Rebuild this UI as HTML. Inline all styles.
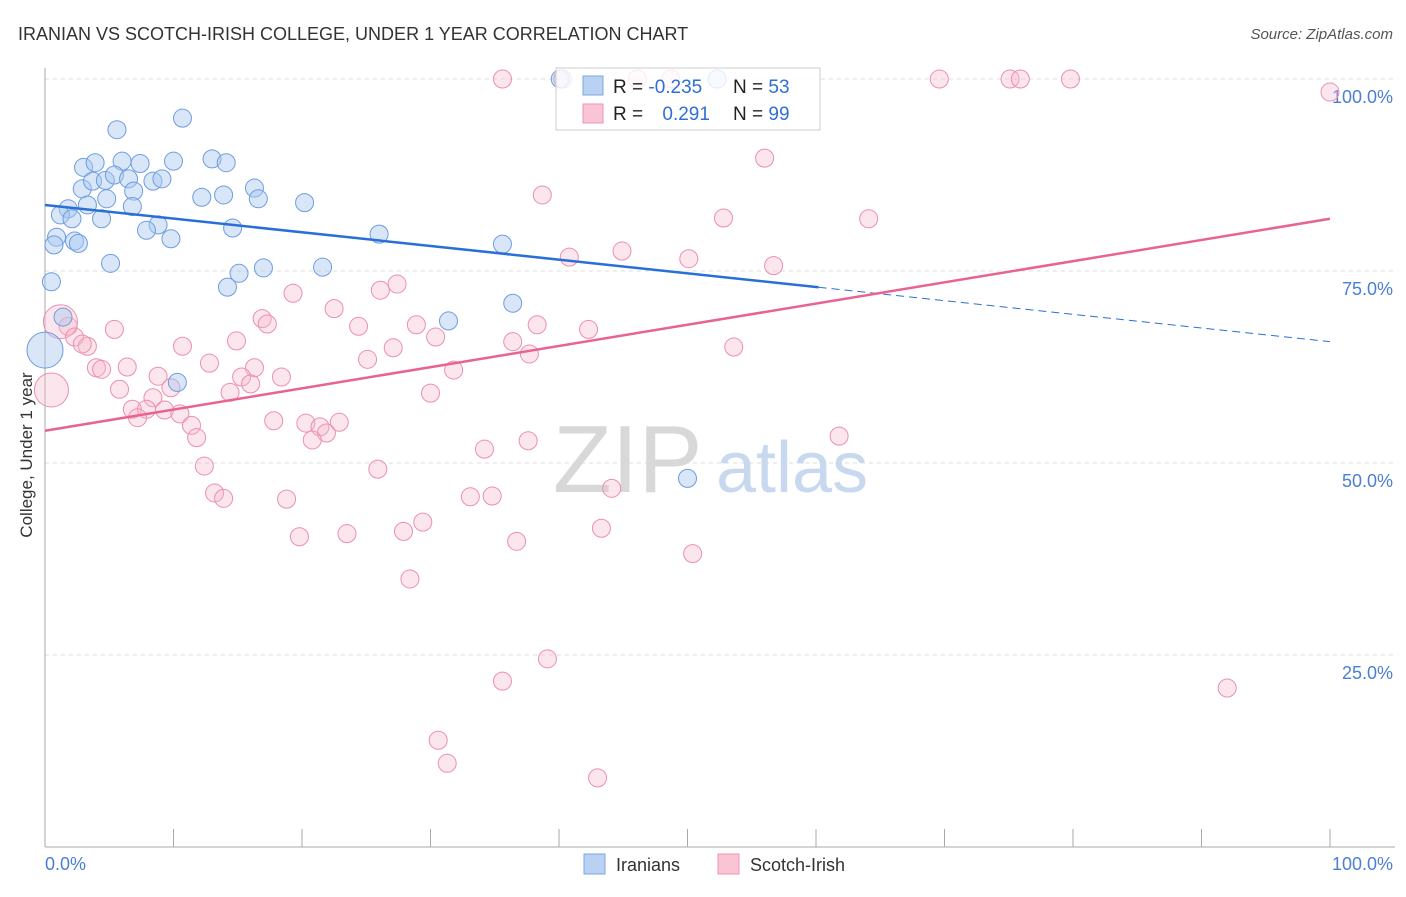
<!DOCTYPE html>
<html><head><meta charset="utf-8">
<style>
body{margin:0;background:#fff;font-family:"Liberation Sans",sans-serif;}
svg text{font-family:"Liberation Sans",sans-serif;}
</style></head>
<body>
<svg id="chart" width="1406" height="892" xmlns="http://www.w3.org/2000/svg">
<text x="18" y="40" font-size="18" fill="#333">IRANIAN VS SCOTCH-IRISH COLLEGE, UNDER 1 YEAR CORRELATION CHART</text>
<text x="1393" y="39" font-size="15" fill="#555" text-anchor="end" font-style="italic">Source: ZipAtlas.com</text>
<g id="grid"></g>
<g>
<text x="553" y="492" font-size="96" fill="#d8d8d8" font-family="Liberation Serif, serif">ZIP</text>
<text x="716" y="492" font-size="72" fill="#c8d9ef">atlas</text>
</g>
<g id="axes"></g>
<g id="pinkPts"></g>
<g id="bluePts"></g>
<g id="lines"></g>
<text x="32" y="455" font-size="17" fill="#333" text-anchor="middle" transform="rotate(-90 32 455)">College, Under 1 year</text>
<text x="45" y="870" font-size="18" fill="#4a7fd4">0.0%</text>
<text x="1393" y="870" font-size="18" fill="#4a7fd4" text-anchor="end">100.0%</text>
<g>
<rect x="556" y="68" width="264" height="62" fill="#fff" fill-opacity="0.8" stroke="#ccc"/>
<rect x="583" y="76" width="20" height="19" fill="#b9d2f3" stroke="#7fa7de"/>
<rect x="583" y="104" width="20" height="19" fill="#f9c4d4" stroke="#ee93b0"/>
<text x="613" y="93" font-size="19" fill="#222">R = <tspan fill="#2f6fd6">-0.235</tspan></text>
<text x="733" y="93" font-size="19" fill="#222">N = <tspan fill="#2f6fd6">53</tspan></text>
<text x="613" y="120" font-size="19" fill="#222">R = <tspan fill="#2f6fd6" dx="14">0.291</tspan></text>
<text x="733" y="120" font-size="19" fill="#222">N = <tspan fill="#2f6fd6">99</tspan></text>
</g>
<g>
<rect x="584" y="854" width="21" height="20" fill="#b9d2f3" stroke="#7fa7de"/>
<text x="616" y="871" font-size="18" fill="#333">Iranians</text>
<rect x="718" y="854" width="21" height="20" fill="#f9c4d4" stroke="#ee93b0"/>
<text x="750" y="871" font-size="18" fill="#333">Scotch-Irish</text>
</g>
</svg>
<script>
const yTicks=[100,75,50,25];
const yTickLabels=["100.0%","75.0%","50.0%","25.0%"];
const blueX=[5.6,10.7,3.0,3.9,6.0,7.4,10.0,13.0,14.1,2.9,3.7,4.7,5.4,6.5,6.9,8.4,9.1,1.8,1.2,3.3,4.8,6.8,12.2,13.9,16.3,16.6,20.2,2.1,4.4,8.8,7.9,14.6,0.9,0.7,2.3,2.6,9.8,26.0,35.6,5.1,15.1,17.0,21.6,14.2,0.5,1.4,36.4,31.4,0,10.3,50.0,52.3,40.1];
const blueY=[93.4,94.9,88.5,89.1,89.3,89.0,89.3,89.6,89.1,85.7,86.7,86.8,87.5,87.0,85.4,86.7,87.0,83.1,82.3,83.6,84.4,83.4,84.6,84.9,85.8,84.4,83.9,81.8,81.8,81.0,80.3,80.6,79.4,78.4,78.9,78.6,79.2,79.8,78.5,76.0,74.7,75.4,75.5,72.9,73.6,69.0,70.8,68.5,64.7,60.5,48.0,100,100];
const pinkX=[35.6,40.3,46.1,48.7,69.6,75.1,75.9,79.8,100,56.0,38.7,52.8,64.1,40.8,44.9,50.1,56.7,19.3,27.4,26.1,22.5,16.9,17.3,24.4,28.9,5.4,1.8,1.2,2.3,3.3,2.9,14.9,10.7,30.4,36.4,38.3,42.3,37.7,53.6,25.1,27.1,16.3,4.0,4.4,6.4,12.8,18.4,31.8,8.8,15.3,16.0,5.8,9.8,14.4,0.5,8.4,30.0,6.8,7.9,9.3,7.2,10.5,11.4,17.8,20.3,21.4,22.9,21.9,20.8,11.8,61.8,37.6,34.2,12.4,25.9,44.1,13.2,13.9,18.8,33.1,34.8,43.3,29.4,27.9,19.8,23.5,36.7,50.4,28.4,39.1,35.6,92.0,30.6,31.3,43.0];
const pinkY=[100,100,100,100,100,100,100,100,98.3,89.7,84.9,81.9,81.8,76.8,77.6,76.6,75.7,72.1,73.3,72.5,70.1,68.8,68.1,67.8,68.0,67.4,67.8,68.4,66.4,65.2,65.5,65.9,65.2,66.4,65.8,68.0,67.4,64.2,65.1,63.5,65.0,62.4,62.4,62.2,62.5,63.0,61.2,62.1,61.3,61.2,60.3,59.6,59.8,59.2,59.5,58.5,59.1,57.0,57.0,56.9,55.9,56.4,54.9,55.5,55.2,54.7,55.3,53.9,53.0,53.3,53.5,52.9,51.8,49.6,49.2,46.7,46.1,45.4,45.3,45.6,45.7,41.5,42.3,41.1,40.4,40.8,39.8,38.2,34.9,24.5,21.6,20.7,13.9,10.9,9.0];
const blueTrend=[83.6,65.8];
const blueSolidEnd=60.2;
const pinkTrend=[54.2,81.8];

const NS="http://www.w3.org/2000/svg";
const X=v=>45+v*12.85;
const Y=v=>847-v*7.68;
function mk(tag,attrs,parent){const e=document.createElementNS(NS,tag);for(const k in attrs)e.setAttribute(k,attrs[k]);parent.appendChild(e);return e;}
const grid=document.getElementById('grid'),axes=document.getElementById('axes');
yTicks.forEach((t,i)=>{
  const l=mk('line',{x1:45,x2:1395,y1:Y(t),y2:Y(t),stroke:'#ddd','stroke-dasharray':'4,4'},grid);
  
  
  const tx=mk('text',{x:1393,y:Y(t)+24,'font-size':18,fill:'#4a7fd4','text-anchor':'end'},grid);
  tx.textContent=yTickLabels[i];
  
  
});
const xa=mk('line',{x1:45,x2:1395,y1:847,y2:847,stroke:'#aaa'},axes);


const ya=mk('line',{x1:45,x2:45,y1:68,y2:847,stroke:'#aaa'},axes);


for(let i=1;i<=10;i++){
  const t=mk('line',{x1:X(i*10),x2:X(i*10),y1:829,y2:847,stroke:'#aaa'},axes);
  
  
}
const pg=document.getElementById('pinkPts');
pinkX.forEach((v,i)=>{
  const big=(v<=1.3&&(pinkY[i]>68||pinkY[i]<60));
  const c=mk('circle',{cx:X(v),cy:Y(pinkY[i]),r:big?17:9,fill:'#f7b8cb','fill-opacity':0.35,stroke:'#ec8fad','stroke-width':1},pg);
  
  
});
const bg=document.getElementById('bluePts');
blueX.forEach((v,i)=>{
  const big=(v===0);
  const c=mk('circle',{cx:X(v),cy:Y(blueY[i]),r:big?18:9,fill:'#a9c8f0','fill-opacity':0.45,stroke:'#6e9de0','stroke-width':1},bg);
  
  
});
const lg=document.getElementById('lines');
const bAt=x=>blueTrend[0]+(blueTrend[1]-blueTrend[0])*x/100;
const pAt=x=>pinkTrend[0]+(pinkTrend[1]-pinkTrend[0])*x/100;
const l1=mk('line',{x1:X(0),y1:Y(bAt(0)),x2:X(blueSolidEnd),y2:Y(bAt(blueSolidEnd)),stroke:'#2a6fd6','stroke-width':2.5},lg);


const l2=mk('line',{x1:X(blueSolidEnd),y1:Y(bAt(blueSolidEnd)),x2:X(100),y2:Y(bAt(100)),stroke:'#2a6fd6','stroke-width':1,'stroke-dasharray':'8,5'},lg);


const l3=mk('line',{x1:X(0),y1:Y(pAt(0)),x2:X(100),y2:Y(pAt(100)),stroke:'#e8638f','stroke-width':2.5},lg);


</script>
</body></html>
